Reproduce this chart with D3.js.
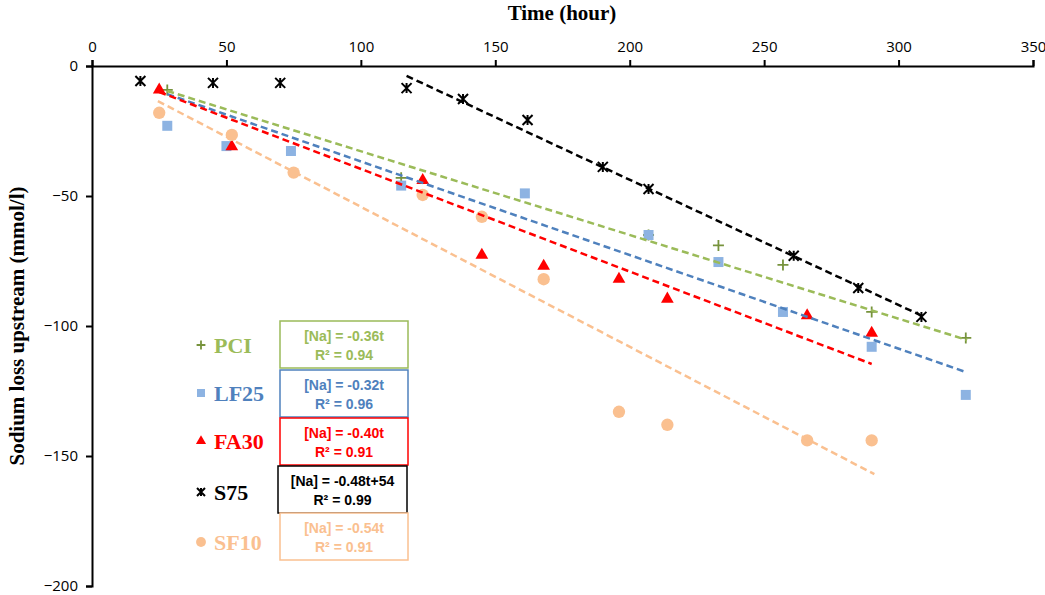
<!DOCTYPE html>
<html><head><meta charset="utf-8">
<script src="https://cdn.jsdelivr.net/npm/d3@7"></script>
<style>body{margin:0;background:#fff}</style></head>
<body><svg id="c" width="1045" height="595"></svg>
<script>
const pciT=[28,115,207,233,257,290,325], pciV=[-9.2,-43,-65,-69,-76.5,-94.6,-104.6];
const lfT=[28,50,74,115,161,207,233,257,290,325], lfV=[-23,-30.8,-32.7,-46,-49,-65,-75.4,-94.6,-108,-126.5];
const faT=[25,52,123,145,168,196,214,266,290], faV=[-9.2,-31,-44,-72.7,-77,-82,-89.6,-96,-102.7];
const sT=[18,45,70,117,138,162,190,207,261,285,308.5], sV=[-5.8,-6.5,-6.5,-8.5,-12.7,-20.8,-38.8,-47.3,-73,-85.4,-96.5];
const sfT=[25,52,75,123,145,168,196,214,266,290], sfV=[-18,-26.5,-41,-49.6,-58,-82,-133,-138,-144,-144];
// trendline endpoints [t0,v0,t1,v1]
const trends={PCI:[28,-9.6,325.5,-105.4],LF25:[28,-10.8,325,-117.7],FA30:[25,-10,290,-114.6],S75:[117,-3.8,308.5,-96],SF10:[24.5,-13.5,291,-157]};
const eqs={PCI:["[Na] = -0.36t","R² = 0.94"],LF25:["[Na] = -0.32t","R² = 0.96"],FA30:["[Na] = -0.40t","R² = 0.91"],S75:["[Na] = -0.48t+54","R² = 0.99"],SF10:["[Na] = -0.54t","R² = 0.91"]};

const series=[
 {name:"PCI",t:pciT,v:pciV,mark:"#77933c",line:"#9bbb59",sym:d3.symbolCross,txt:"#9bbb59"},
 {name:"LF25",t:lfT,v:lfV,mark:"#8db3e2",line:"#4f81bd",sym:d3.symbolSquare,txt:"#4f81bd"},
 {name:"FA30",t:faT,v:faV,mark:"#ff0000",line:"#ff0000",sym:d3.symbolTriangle,txt:"#ff0000"},
 {name:"S75",t:sT,v:sV,mark:"#000",line:"#000",sym:"star",txt:"#000"},
 {name:"SF10",t:sfT,v:sfV,mark:"#fac090",line:"#fac090",sym:d3.symbolCircle,txt:"#fac090"}];

const svg=d3.select("#c");
const x=d3.scaleLinear().domain([0,350]).range([92,1033]);
const y=d3.scaleLinear().domain([0,-200]).range([66,586]);
const serif="'Liberation Serif','DejaVu Serif',serif";

const xa=svg.append("g").attr("transform","translate(0,66)").call(d3.axisTop(x).tickValues(d3.range(0,351,50)).tickSize(6).tickPadding(8));
const ya=svg.append("g").attr("transform","translate(92,0)").call(d3.axisLeft(y).tickValues(d3.range(0,-201,-50)).tickSize(6).tickPadding(8));
[xa,ya].forEach(a=>{a.selectAll("path,line").attr("stroke","#000").attr("stroke-width",2);
 a.selectAll("text").attr("font-family","'Open Sans',sans-serif").attr("font-size",15).attr("fill","#000");});
svg.append("text").attr("x",562).attr("y",20).attr("text-anchor","middle").attr("font-family",serif).attr("font-weight","bold").attr("font-size",21).text("Time (hour)");
svg.append("text").attr("transform","translate(24,326) rotate(-90)").attr("text-anchor","middle").attr("font-family",serif).attr("font-weight","bold").attr("font-size",21).text("Sodium loss upstream (mmol/l)");

function drawMark(g,s,px,py,scale){
  if(s.sym==="star"){
    const r=5*scale;
    g.append("path").attr("d",`M${px-r},${py-r}L${px+r},${py+r}M${px+r},${py-r}L${px-r},${py+r}M${px},${py-r}L${px},${py+r}`).attr("stroke","#000").attr("stroke-width",2);
  } else if(s.sym===d3.symbolCross){
    const r=5.5*scale;
    g.append("path").attr("d",`M${px-r},${py}L${px+r},${py}M${px},${py-r}L${px},${py+r}`).attr("stroke",s.mark).attr("stroke-width",1.8);
  } else {
    const size=s.sym===d3.symbolCircle?120:s.sym===d3.symbolSquare?100:70;
    g.append("path").attr("d",d3.symbol().type(s.sym).size(size*scale*scale)()).attr("transform",`translate(${px},${py})`).attr("fill",s.mark);
  }
}

const plot=svg.append("g");
series.forEach(s=>{
  s.t.forEach((t,i)=>drawMark(plot,s,x(t),y(s.v[i]),1));
});
series.forEach(s=>{
  const tr=trends[s.name];
  plot.append("line").attr("x1",x(tr[0])).attr("y1",y(tr[1])).attr("x2",x(tr[2])).attr("y2",y(tr[3]))
   .attr("stroke",s.line).attr("stroke-width",2.5).attr("stroke-dasharray","7,4");
});

// legend + equation boxes
const ly=[346,394,442,493,543], by=[321,370,418,466,513];
series.forEach((s,i)=>{
  drawMark(svg,s,201,ly[i]-1,0.8);
  svg.append("text").attr("x",214).attr("y",ly[i]+7).attr("font-family",serif).attr("font-weight","bold").attr("font-size",22).attr("fill",s.txt).text(s.name);
  const bx=s.name==="S75"?278:280, bw=s.name==="S75"?129:128;
  svg.append("rect").attr("x",bx).attr("y",by[i]).attr("width",bw).attr("height",47).attr("fill","#fff").attr("stroke",s.txt==="#000"?"#000":s.line).attr("stroke-width",1.5);
  eqs[s.name].forEach((l,j)=>svg.append("text").attr("x",bx+bw/2).attr("y",by[i]+20+j*19).attr("text-anchor","middle")
   .attr("font-family","'Liberation Sans',sans-serif").attr("font-weight","bold").attr("font-size",14).attr("fill",s.txt).text(l));
});
</script></body></html>
